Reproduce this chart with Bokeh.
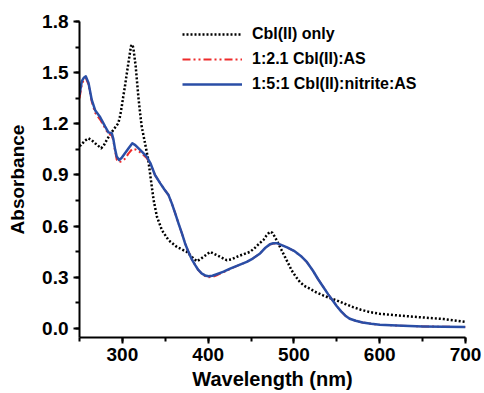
from bokeh.plotting import figure
from bokeh.models import Range1d, SingleIntervalTicker, Legend, LegendItem, PrintfTickFormatter
from bokeh.embed import file_html
from bokeh.resources import INLINE

# Cbl(II) only (black dotted)
wl_cbl = [250, 252, 256, 260.5, 264, 268.2, 275.2, 278, 281.8, 285.5, 289.5, 295.3, 297.5, 299.2, 301,
          303, 305, 307, 310, 311.5, 312.8, 315.5, 318.6, 320.5, 322.5, 326.4, 330.2, 333, 336.4, 340.3,
          346.1, 353.8, 363.6, 375.2, 381, 386.8, 390.5, 394.5, 402.3, 408, 414, 421.7, 427, 433.4, 441,
          448.8, 455, 460, 464.3, 468, 472, 475, 478, 481.7, 485.5, 489.5, 493.5, 497.3, 502, 507, 512,
          518.6, 526, 534, 542, 549.6, 559, 568.9, 578, 588.4, 600, 620, 649, 675, 690, 700]
abs_cbl = [1.07, 1.076, 1.10, 1.115, 1.105, 1.086, 1.057, 1.07, 1.106, 1.135, 1.165, 1.204, 1.25, 1.30,
           1.36, 1.42, 1.49, 1.557, 1.655, 1.665, 1.645, 1.537, 1.36, 1.27, 1.184, 1.086, 0.988, 0.88,
           0.753, 0.655, 0.576, 0.518, 0.478, 0.449, 0.42, 0.394, 0.405, 0.42, 0.449, 0.435, 0.42, 0.40,
           0.405, 0.42, 0.435, 0.449, 0.475, 0.50, 0.518, 0.545, 0.567, 0.56, 0.535, 0.498, 0.46, 0.42,
           0.38, 0.341, 0.305, 0.272, 0.25, 0.233, 0.212, 0.194, 0.178, 0.165, 0.145, 0.125, 0.11, 0.096,
           0.086, 0.077, 0.065, 0.055, 0.045, 0.038]

# shared wavelength grid of the two Cbl(II)/AS spectra
wl_mix = [250, 252.7, 255, 257.4, 260.5, 264.3, 268.2, 274, 279.8, 283.7, 287.6, 289.5, 291.5, 293.4,
          296.2, 299, 303, 307, 311.6, 315, 318.6, 323, 328.3, 332.6, 338, 344.2, 349, 353.8, 357.5,
          361.6, 365.5, 369.4, 373, 377, 381, 384.9, 388.5, 392.7, 396.5, 400.3, 405, 410, 418, 425.6,
          435, 445, 452, 460.5, 466, 472, 476, 480, 485, 492, 500, 508, 515, 522, 528, 534, 540, 545,
          550, 555, 560, 565, 572, 580, 590, 600, 620, 650, 700]

# 1:2.1 Cbl(II):AS (red dash-dot)
abs_as = [1.35, 1.43, 1.46, 1.47, 1.43, 1.33, 1.265, 1.225, 1.175, 1.14, 1.135, 1.10, 1.04, 0.99,
          0.975, 0.98, 0.995, 1.025, 1.053, 1.05, 1.04, 1.025, 1.0, 0.965, 0.90, 0.851, 0.815, 0.782,
          0.735, 0.675, 0.615, 0.557, 0.50, 0.449, 0.405, 0.371, 0.343, 0.32, 0.307, 0.300, 0.302,
          0.312, 0.33, 0.349, 0.37, 0.39, 0.41, 0.44, 0.47, 0.492, 0.498, 0.498, 0.49, 0.475, 0.455,
          0.425, 0.39, 0.34, 0.29, 0.245, 0.20, 0.165, 0.13, 0.10, 0.075, 0.057, 0.045, 0.035, 0.027,
          0.022, 0.017, 0.012, 0.008]

# 1:5:1 Cbl(II):nitrite:AS (blue solid)
abs_nit = [1.37, 1.45, 1.47, 1.478, 1.44, 1.34, 1.28, 1.24, 1.185, 1.15, 1.145, 1.11, 1.05, 1.008,
           0.988, 1.0, 1.027, 1.055, 1.086, 1.075, 1.057, 1.035, 1.008, 0.97, 0.90, 0.851, 0.815, 0.782,
           0.735, 0.675, 0.615, 0.557, 0.50, 0.449, 0.405, 0.371, 0.343, 0.322, 0.311, 0.306, 0.309,
           0.318, 0.333, 0.351, 0.37, 0.39, 0.41, 0.44, 0.47, 0.494, 0.50, 0.50, 0.49, 0.475, 0.455,
           0.425, 0.39, 0.34, 0.29, 0.245, 0.20, 0.165, 0.13, 0.10, 0.075, 0.057, 0.045, 0.035, 0.027,
           0.022, 0.017, 0.012, 0.008]

labels = ["Cbl(II) only", "1:2.1 Cbl(II):AS", "1:5:1 Cbl(II):nitrite:AS"]

FONT = "Liberation Sans"

p = figure(width=484, height=393, output_backend="svg", toolbar_location=None,
           x_range=Range1d(250, 700), y_range=Range1d(-0.053, 1.8),
           min_border_left=79, min_border_right=19, min_border_top=21, min_border_bottom=56)
p.outline_line_color = None
p.xgrid.visible = False
p.ygrid.visible = False
p.background_fill_color = "white"
p.border_fill_color = "white"

r_cbl = p.line(wl_cbl, abs_cbl, line_color="black", line_width=2.5, line_dash="2 2",
               line_join="round")
r_as = p.line(wl_mix, abs_as, line_color="#ee2b2b", line_width=2, line_dash="8 3 2 3 2 3",
              line_join="round")
r_nit = p.line(wl_mix, abs_nit, line_color="#2a4ea6", line_width=2.5, line_join="round")

p.xaxis.ticker = SingleIntervalTicker(interval=100, num_minor_ticks=2)
p.yaxis.ticker = SingleIntervalTicker(interval=0.3, num_minor_ticks=2)
p.yaxis.formatter = PrintfTickFormatter(format="%.1f")
p.xaxis.axis_label = "Wavelength (nm)"
p.yaxis.axis_label = "Absorbance"
for ax in (p.xaxis, p.yaxis):
    ax.axis_line_width = 2
    ax.major_tick_line_width = 2
    ax.minor_tick_line_width = 2
    ax.major_tick_in = 0
    ax.major_tick_out = 6
    ax.minor_tick_in = 0
    ax.minor_tick_out = 4
    ax.major_label_text_font = FONT
    ax.major_label_text_font_style = "bold"
    ax.major_label_text_font_size = "19px"
    ax.major_label_text_color = "black"
    ax.axis_label_text_font = FONT
    ax.axis_label_text_font_style = "bold"
    ax.axis_label_text_color = "black"
p.xaxis.axis_label_text_font_size = "20px"
p.yaxis.axis_label_text_font_size = "19px"
p.xaxis.major_label_standoff = 4
p.yaxis.major_label_standoff = 5
p.xaxis.axis_label_standoff = 4
p.yaxis.axis_label_standoff = 11

legend = Legend(items=[LegendItem(label=labels[0], renderers=[r_cbl]),
                       LegendItem(label=labels[1], renderers=[r_as]),
                       LegendItem(label=labels[2], renderers=[r_nit])],
                location=(103, 243), glyph_width=60, glyph_height=20, label_height=20,
                spacing=5, padding=0, margin=0, border_line_color=None,
                background_fill_alpha=0, label_standoff=10,
                label_text_font=FONT, label_text_font_style="bold",
                label_text_font_size="16px", label_text_color="black")
p.add_layout(legend)

open("out.html", "w").write(file_html(p, INLINE))
